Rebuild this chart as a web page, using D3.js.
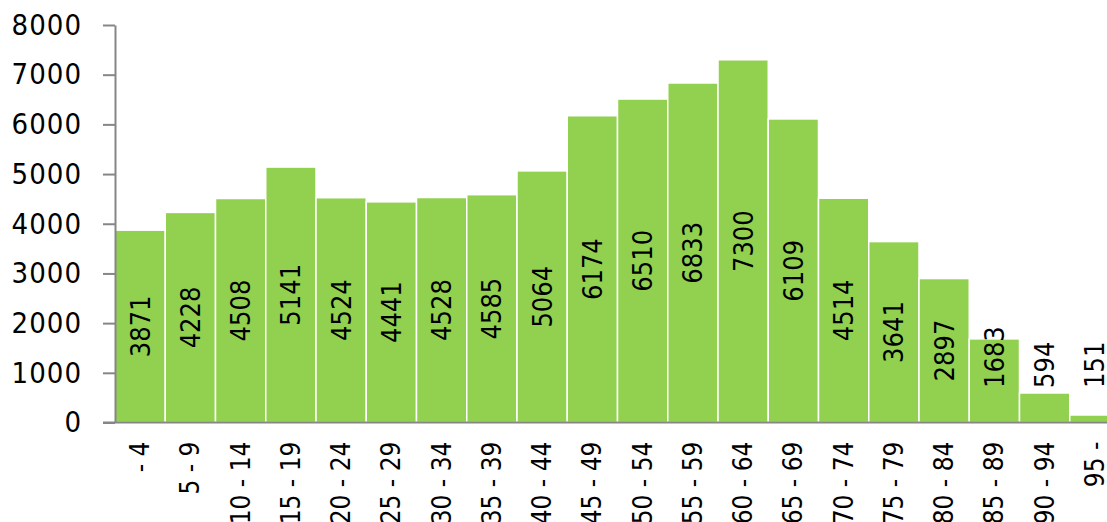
<!DOCTYPE html>
<html>
<head>
<meta charset="utf-8">
<script src="https://cdn.jsdelivr.net/npm/d3@7"></script>
<style>
  html, body { margin: 0; padding: 0; background: #fff; overflow: hidden; }
  svg { display: block; }
  text { font-family: "DejaVu Sans Condensed", "DejaVu Sans", sans-serif; fill: #000; }
</style>
</head>
<body>
<svg id="chart" width="1107" height="522"></svg>
<script>
const categories = ["- 4", "5 - 9", "10 - 14", "15 - 19", "20 - 24", "25 - 29", "30 - 34", "35 - 39", "40 - 44", "45 - 49",
                    "50 - 54", "55 - 59", "60 - 64", "65 - 69", "70 - 74", "75 - 79", "80 - 84", "85 - 89", "90 - 94", "95 -"];
const values = [3871, 4228, 4508, 5141, 4524, 4441, 4528, 4585, 5064, 6174,
                6510, 6833, 7300, 6109, 4514, 3641, 2897, 1683, 594, 151];
const yTicks = [0, 1000, 2000, 3000, 4000, 5000, 6000, 7000, 8000];

const W = 1107, H = 522;
const left = 115, bandW = 50.25;
const yTop = 25, yBottom = 422.5;
const barColor = "#92d050";
const axisColor = "#868686";

const svg = d3.select("#chart");

const x = d3.scaleBand().domain(categories).range([left, left + bandW * categories.length]).padding(0);
const y = d3.scaleLinear().domain([0, 8000]).range([yBottom, yTop]);

// bars
svg.append("g").selectAll("rect").data(values).join("rect")
  .attr("x", (d, i) => x(categories[i]))
  .attr("y", d => y(d))
  .attr("width", x.bandwidth())
  .attr("height", d => yBottom - y(d))
  .attr("fill", barColor)
  .attr("stroke", "#ffffff")
  .attr("stroke-width", 1.5);

// y axis
const yAxis = svg.append("g").attr("transform", `translate(${left},0)`)
  .call(d3.axisLeft(y).tickValues(yTicks).tickFormat(d3.format("d")).tickSize(12).tickSizeOuter(0).tickPadding(21));
yAxis.select(".domain").attr("stroke", axisColor).attr("stroke-width", 2);
yAxis.selectAll(".tick line").attr("stroke", axisColor).attr("stroke-width", 2);
yAxis.selectAll(".tick text").attr("font-size", 29).attr("fill", "#000")
  .style("font-family", '"DejaVu Sans Condensed", "DejaVu Sans", sans-serif').attr("letter-spacing", 1);

// x axis (line only, rotated labels)
const xAxis = svg.append("g").attr("transform", `translate(0,${yBottom})`)
  .call(d3.axisBottom(x).tickSize(0).tickSizeOuter(0));
xAxis.select(".domain").remove();
xAxis.selectAll(".tick text")
  .attr("transform", "rotate(-90)")
  .attr("text-anchor", "end")
  .attr("x", -19)
  .attr("y", 0)
  .attr("dy", "0.35em")
  .attr("font-size", 26)
  .attr("fill", "#000")
  .style("font-family", '"DejaVu Sans Condensed", "DejaVu Sans", sans-serif');
svg.append("line")
  .attr("x1", left - 12).attr("x2", W)
  .attr("y1", yBottom).attr("y2", yBottom)
  .attr("stroke", axisColor).attr("stroke-width", 2);

// data labels
const labels = svg.append("g").selectAll("text").data(values).join("text")
  .attr("font-size", 27)
  .attr("text-anchor", "middle")
  .attr("dy", "0.35em")
  .text(d => d);
labels.each(function(d, i) {
  const len = this.getComputedTextLength();
  const cx = x(categories[i]) + x.bandwidth() / 2;
  const mid = (y(d) + yBottom) / 2;
  const cy = Math.min(mid, 388 - len / 2);
  d3.select(this).attr("transform", `translate(${cx},${cy}) rotate(-90)`);
});
</script>
</body>
</html>
